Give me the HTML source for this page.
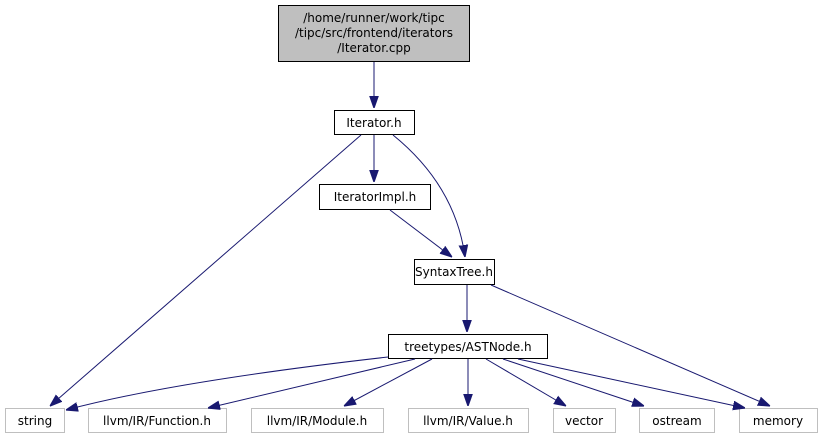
<!DOCTYPE html>
<html><head><meta charset="utf-8"><style>
html,body{margin:0;padding:0;background:#fff;}
svg{display:block;}
text{font-family:"DejaVu Sans","Liberation Sans",sans-serif;font-size:12px;fill:#000;text-anchor:middle;}
.b{fill:#fff;stroke:#000;stroke-width:1;}
.g{fill:#fff;stroke:#bfbfbf;stroke-width:1;}
.e{fill:none;stroke:#191970;stroke-width:1;}
</style></head><body>
<svg width="823" height="440" viewBox="0 0 823 440" xmlns="http://www.w3.org/2000/svg">
<defs><marker id="a" markerUnits="userSpaceOnUse" markerWidth="12" markerHeight="12" refX="10" refY="5" orient="auto" viewBox="0 0 10 10"><path d="M0,1.5 L10,5 L0,8.5 Z" fill="#191970" stroke="#191970"/></marker></defs>
<rect x="278.5" y="5.5" width="191" height="56" fill="#bfbfbf" stroke="#000"/>
<text x="374" y="22">/home/runner/work/tipc</text>
<text x="374" y="37">/tipc/src/frontend/iterators</text>
<text x="374" y="52">/Iterator.cpp</text>
<rect class="b" x="334.5" y="110.5" width="80" height="24"/><text x="374" y="127">Iterator.h</text>
<rect class="b" x="319.5" y="184.5" width="111" height="25"/><text x="375" y="201">IteratorImpl.h</text>
<rect class="b" x="414.5" y="259.5" width="80" height="25"/><text x="454" y="276">SyntaxTree.h</text>
<rect class="b" x="388.5" y="334.5" width="159" height="24"/><text x="468" y="351">treetypes/ASTNode.h</text>
<rect class="g" x="5.5" y="408.5" width="59" height="24"/><text x="35" y="425">string</text>
<rect class="g" x="88.5" y="408.5" width="138" height="24"/><text x="157" y="425">llvm/IR/Function.h</text>
<rect class="g" x="251.5" y="408.5" width="132" height="24"/><text x="317" y="425">llvm/IR/Module.h</text>
<rect class="g" x="408.5" y="408.5" width="120" height="24"/><text x="468" y="425">llvm/IR/Value.h</text>
<rect class="g" x="553.5" y="408.5" width="62" height="24"/><text x="584" y="425">vector</text>
<rect class="g" x="639.5" y="408.5" width="75" height="24"/><text x="677" y="425">ostream</text>
<rect class="g" x="739.5" y="408.5" width="78" height="24"/><text x="778" y="425">memory</text>
<g class="e">
<path d="M374,62 L374,108" marker-end="url(#a)"/>
<path d="M374,135 L374,182" marker-end="url(#a)"/>
<path d="M361,135 L50,406" marker-end="url(#a)"/>
<path d="M393,135 C430,165 458,205 465,257" marker-end="url(#a)"/>
<path d="M390,210 L452,257" marker-end="url(#a)"/>
<path d="M467,285 L467,332" marker-end="url(#a)"/>
<path d="M491,285 L770,406" marker-end="url(#a)"/>
<path d="M388,357 C300,367 160,385 66,410" marker-end="url(#a)"/>
<path d="M415,359 L208,408" marker-end="url(#a)"/>
<path d="M432,359 L344,406" marker-end="url(#a)"/>
<path d="M468,359 L468,406" marker-end="url(#a)"/>
<path d="M486,359 L566,406" marker-end="url(#a)"/>
<path d="M503,359 L644,406" marker-end="url(#a)"/>
<path d="M518,359 L745,408" marker-end="url(#a)"/>
</g>
</svg>
</body></html>
